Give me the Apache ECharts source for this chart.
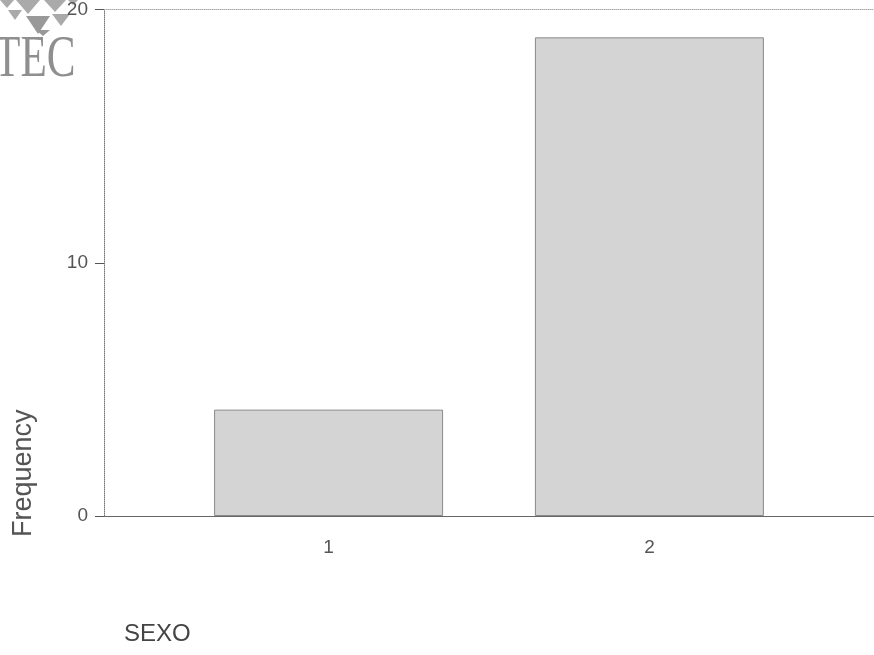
<!DOCTYPE html>
<html>
<head>
<meta charset="utf-8">
<script src="https://cdn.jsdelivr.net/npm/echarts@6/dist/echarts.min.js"></script>
<style>html,body{margin:0;padding:0;background:#fff}#c{width:874px;height:655px}</style>
</head>
<body>
<div id="c"></div>
<script>
const categories = [1, 2];
const frequencies = [4.2, 18.9];
const yTicks = [0, 10, 20];
const xTitle = 'SEXO';
const yTitle = 'Frequency';

const chart = echarts.init(document.getElementById('c'), null, {renderer: 'canvas'});
const fontFam = '"Liberation Sans", Arial, sans-serif';
const tri = (x, y, w, h, c) => ({type: 'polygon', shape: {points: [[x, y], [x + w, y], [x + w / 2, y + h]]}, style: {fill: c || '#aaaaaa'}});
chart.setOption({
  animation: false,
  backgroundColor: '#ffffff',
  grid: {left: 104, right: 0, top: 8, bottom: 139},
  xAxis: [{
    type: 'value', min: 0.3, max: 2.7,
    axisLine: {show: true, lineStyle: {color: '#666', width: 1}},
    axisTick: {show: false},
    splitLine: {show: false},
    axisLabel: {customValues: categories, color: '#555', fontSize: 19, fontFamily: fontFam, margin: 22, formatter: v => String(v)}
  }, {
    type: 'value', min: 0.3, max: 2.7, position: 'top',
    axisLine: {show: true, lineStyle: {color: '#aaa', width: 1, type: 'dotted'}},
    axisTick: {show: false}, axisLabel: {show: false}, splitLine: {show: false}
  }],
  yAxis: {
    type: 'value', min: 0, max: 20, interval: 10,
    axisLine: {show: true, lineStyle: {color: '#777', width: 1, type: 'dotted'}},
    axisTick: {show: true, length: 9, lineStyle: {color: '#555'}},
    splitLine: {show: false},
    axisLabel: {color: '#555', fontSize: 19, fontFamily: fontFam, margin: 16, customValues: yTicks}
  },
  series: [{
    type: 'bar',
    data: categories.map((c, i) => [c, frequencies[i]]),
    barWidth: 229,
    itemStyle: {color: '#d4d4d4', borderColor: '#8a8a8a', borderWidth: 1}
  }],
  graphic: [
    {type: 'text', x: -6, y: 30, scaleX: 0.72, style: {text: 'TEC', fontSize: 60, fontFamily: '"Liberation Serif", "DejaVu Serif", serif', fill: '#8f8f8f'}},
    tri(0, 0, 14, 8), tri(16, 0, 24, 14), tri(44, 0, 22, 12), tri(68, 0, 10, 5),
    tri(8, 10, 14, 10), tri(26, 16, 24, 18, '#999'), tri(52, 14, 18, 12),
    tri(36, 30, 14, 6, '#999')
  ].concat([
    {type: 'text', x: 10, y: 537, rotation: Math.PI / 2, style: {text: yTitle, fontSize: 27, fontFamily: fontFam, fill: '#555'}},
    {type: 'text', x: 124, y: 622, style: {text: xTitle, fontSize: 24, fontFamily: fontFam, fill: '#444'}}
  ])
});
</script>
</body>
</html>
